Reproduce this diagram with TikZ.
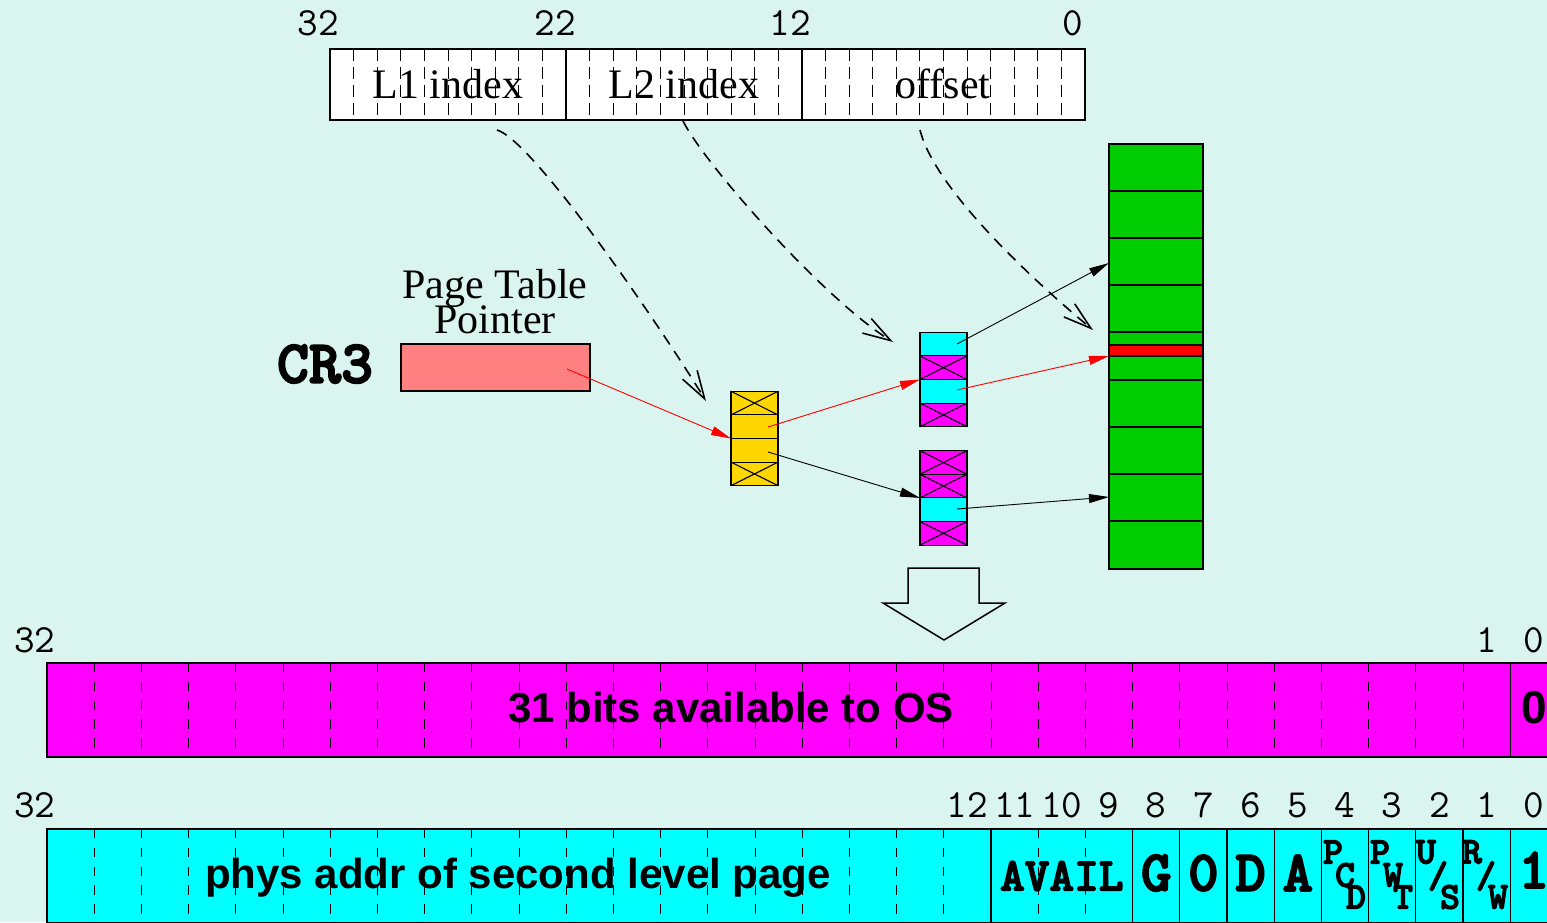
\documentclass[tikz,border=0pt]{standalone}
\usepackage{fontspec}
\setmainfont{Liberation Serif}
\setsansfont{Liberation Sans}
\newfontfamily\courbold{lmmonolt10-bold}[Extension=.otf, FakeBold=3]
\usetikzlibrary{arrows.meta}
\definecolor{bg}{HTML}{DAF4EF}
\definecolor{magc}{HTML}{FF00FF}
\definecolor{cync}{HTML}{00FFFF}
\definecolor{grnc}{HTML}{00CD00}
\definecolor{goldc}{HTML}{FFD700}
\definecolor{pinkc}{HTML}{FF8080}
\newcommand\fsz[1]{\fontsize{#1}{#1}\selectfont}
\begin{document}
\begin{tikzpicture}[x=1pt,y=-1pt,
  box/.style={draw=black, line width=1.1pt, inner sep=0pt, outer sep=0pt, anchor=north west},
  cell/.style={draw=black, line width=1.1pt},
  thinarrow/.style={line width=0.9pt, -{Triangle[length=20pt,width=9pt]}},
  dasharrow/.style={line width=1.6pt, dash pattern=on 11pt off 8pt, -{Straight Barb[length=28pt,width=17pt,line width=1.6pt]}},
  toptick/.style={line width=0.8pt, dash pattern=on 12pt off 6pt},
  bartick/.style={line width=0.9pt, dash pattern=on 9.4pt off 9.4pt},
  sep/.style={line width=1.1pt},
  numlab/.style={font=\ttfamily\fsz{40}, anchor=base, inner sep=0pt},
  serif/.style={font=\rmfamily\fsz{42}, anchor=base, inner sep=0pt},
  sanslab/.style={font=\sffamily\bfseries\fsz{42}, inner sep=0pt},
  bigmono/.style={font=\courbold\fsz{58}, inner sep=0pt},
  smallmono/.style={font=\courbold\fsz{38}, inner sep=0pt}
]
\fill[bg] (0,0) rectangle (1547,922);
\useasboundingbox (0,0) rectangle (1547,922);
\clip (0,0) rectangle (1547,922);

% ---------- virtual address box ----------
\node[box, fill=white, minimum width=755pt, minimum height=71pt] (va) at (330,49) {};
\foreach \k in {1,...,9,11,12,...,19,21,22,...,31}
  \draw[toptick] ({330+\k*23.594},49) -- ({330+\k*23.594},120);
\draw[sep] (566,49) -- (566,120);
\draw[sep] (802,49) -- (802,120);
\node[serif] (l1) at (448,98) {L1 index};
\node[serif] (l2) at (684,98) {L2 index};
\node[serif] (off) at (943,98) {offset};
\node[numlab] (t32) at (318,35) {32};
\node[numlab] (t22) at (555,35) {22};
\node[numlab] (t12) at (790,35) {12};
\node[numlab] (t0) at (1073,35) {0};

% ---------- CR3 / page table pointer ----------
\node[serif] (ptp1) at (495,298) {Page Table};
\node[serif] (ptp2) at (495,333) {Pointer};
\node[font=\courbold\fsz{61}, inner sep=0pt] (cr3) at (325,364) {CR3};
\node[box, fill=pinkc, minimum width=189pt, minimum height=47pt] (ptr) at (401,344) {};

% ---------- first-level table (yellow) ----------
\node[box, fill=goldc, minimum width=47pt, minimum height=94.4pt] (ytab) at (731,391.3) {};
\foreach \i in {1,2,3} \draw[cell] (731,{391.3+\i*23.6}) -- (778,{391.3+\i*23.6});
\foreach \r in {0,3} {
  \draw[cell] (731,{391.3+\r*23.6}) -- (778,{391.3+(\r+1)*23.6});
  \draw[cell] (731,{391.3+(\r+1)*23.6}) -- (778,{391.3+\r*23.6});
}

% ---------- second-level tables ----------
\foreach \r/\c in {0/cync,1/magc,2/cync,3/magc}
  \node[box, fill=\c, minimum width=47pt, minimum height=23.6pt] (ua\r) at (920,{332.3+\r*23.6}) {};
\foreach \r in {1,3} {
  \draw[cell] (920,{332.3+\r*23.6}) -- (967,{332.3+(\r+1)*23.6});
  \draw[cell] (920,{332.3+(\r+1)*23.6}) -- (967,{332.3+\r*23.6});
}
\coordinate (utab) at (920,379.5);
\foreach \r/\c in {0/magc,1/magc,2/cync,3/magc}
  \node[box, fill=\c, minimum width=47pt, minimum height=23.6pt] (la\r) at (920,{450.7+\r*23.6}) {};
\foreach \r in {0,1,3} {
  \draw[cell] (920,{450.7+\r*23.6}) -- (967,{450.7+(\r+1)*23.6});
  \draw[cell] (920,{450.7+(\r+1)*23.6}) -- (967,{450.7+\r*23.6});
}
\coordinate (ltab) at (920,497.9);

% ---------- page (green) ----------
\node[box, fill=grnc, minimum width=94pt, minimum height=425pt] (page) at (1109,144) {};
\foreach \y in {191,238,285,332,380,427,474,521} \draw[cell] (1109,\y) -- (1203,\y);
\node[box, fill=red, minimum width=94pt, minimum height=11pt] (pbyte) at (1109,345) {};

% ---------- connectors ----------
\coordinate (s0) at (567,369);
\coordinate (s1) at (768,427);
\coordinate (s2) at (768,452);
\coordinate (s3) at (957,344);
\coordinate (s4) at (957,390);
\coordinate (s5) at (957,509);
\coordinate (g1) at (1109,263);
\coordinate (g2) at (1109,356);
\coordinate (g3) at (1109,497);
\draw[thinarrow, red] (s0) -- (ytab.west);
\draw[thinarrow, red] (s1) -- (utab);
\draw[thinarrow] (s2) -- (ltab);
\draw[thinarrow] (s3) -- (g1);
\draw[thinarrow, red] (s4) -- (g2);
\draw[thinarrow] (s5) -- (g3);

\coordinate (d1s) at (497,130);
\coordinate (d1e) at (706,401);
\coordinate (d2s) at (683,121);
\coordinate (d2e) at (893,342);
\coordinate (d3s) at (920,130);
\coordinate (d3e) at (1093,330);
\draw[dasharrow] (d1s) .. controls (532,140) and (655,318) .. (d1e);
\draw[dasharrow] (d2s) .. controls (705,165) and (825,300) .. (d2e);
\draw[dasharrow] (d3s) .. controls (935,190) and (1035,282) .. (d3e);

% ---------- hollow down arrow ----------
\draw[line width=1.5pt] (908,568) -- (979,568) -- (979,603) -- (1005,603) -- (944,640) -- (883,603) -- (908,603) -- cycle;

% ---------- invalid PTE (magenta bar) ----------
\node[box, fill=magc, minimum width=1510.4pt, minimum height=94pt] (inv) at (47,663) {};
\foreach \k in {1,...,30}
  \draw[bartick] ({47+\k*47.2},663) -- ({47+\k*47.2},757);
\draw[sep] (1510.2,663) -- (1510.2,757);
\node[sanslab] (invtxt) at (731,708) {31 bits available to OS};
\node[font=\sffamily\bfseries\fsz{46}, inner sep=0pt] (inv0) at (1533.8,708) {0};
\node[numlab] (m32) at (35,652) {32};
\node[numlab] (m1) at (1486.6,652) {1};
\node[numlab] (m0) at (1533.8,652) {0};

% ---------- valid PTE (cyan bar) ----------
\node[box, fill=cync, minimum width=1510.4pt, minimum height=94pt] (pte) at (47,829) {};
\foreach \k in {1,...,19,21,22}
  \draw[bartick] ({47+\k*47.2},829) -- ({47+\k*47.2},923);
\foreach \k in {20,23,24,...,31}
  \draw[sep] ({47+\k*47.2},829) -- ({47+\k*47.2},923);
\node[sanslab, anchor=base] (ptetxt) at (518,888) {phys addr of second level page};
\node[numlab] (c32) at (35,817) {32};
\foreach \b in {12,11,10,9,8,7,6,5,4,3,2,1,0}
  \node[numlab] (c\b) at ({1557.4-(\b+0.5)*47.2},817) {\b};
\node[font=\courbold\fsz{47}, inner sep=0pt] (avail) at (1061.8,876) {AVAIL};
\node[bigmono] (fG) at (1156.2,873) {G};
\node[bigmono] (f7) at (1203.4,873) {0};
\node[bigmono] (fD) at (1250.6,873) {D};
\node[bigmono] (fA) at (1297.8,873) {A};
\node[smallmono] (pcd1) at (1333,852) {P};
\node[smallmono] (pcd2) at (1345,875) {C};
\node[smallmono] (pcd3) at (1356,897) {D};
\node[smallmono] (pwt1) at (1380,852) {P};
\node[smallmono] (pwt2) at (1393,875) {W};
\node[smallmono] (pwt3) at (1403,897) {T};
\node[smallmono] (us1) at (1426,852) {U};
\node[smallmono] (us2) at (1438,876) {/};
\node[smallmono] (us3) at (1450,897) {S};
\node[smallmono] (rw1) at (1472,852) {R};
\node[smallmono] (rw2) at (1486,876) {/};
\node[smallmono] (rw3) at (1498,897) {W};
\node[bigmono] (f0) at (1533.8,870) {1};
\end{tikzpicture}
\end{document}
